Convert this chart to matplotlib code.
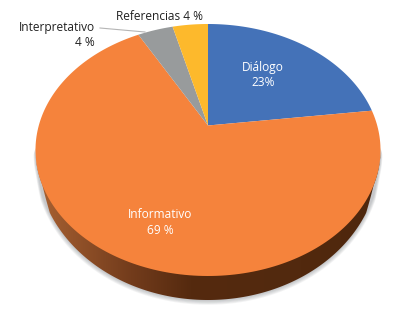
#!/usr/bin/env python3
import numpy as np
import matplotlib
matplotlib.use("Agg")
import matplotlib.pyplot as plt
from matplotlib.patches import Polygon

plt.rcParams['font.family'] = ['Open Sans', 'DejaVu Sans']

# order is clockwise from the top of the pie
categories = ['Diálogo', 'Informativo', 'Interpretativo', 'Referencias']
values = [23, 69, 4, 4]
colors = ['#4472b8', '#f5833c', '#989b9c', '#fdb92c']

# pie geometry in image pixels
cx, cy = 208.0, 150.0
ax_x, ax_y = 172.5, 126.0
apex_y = 125.5
depth = 24.0
k = (cy - apex_y) * 2 / (2 * ax_y)


def persp(theta):
    # theta clockwise from top, circle seen in perspective -> ellipse with offset apex
    u, v = np.sin(theta), np.cos(theta)
    d = 1 + k * v
    c = ax_x * np.sqrt(1 - k ** 2)
    x = cx + c * u / d
    y = cy - (ax_y * v + (cy - apex_y)) / d
    return x, y


def drop(s, dmax, s0):
    # how far the lower rim sits below the face, fading out towards the sides
    return dmax * s ** 0.7 * np.clip((s - s0) / 0.12, 0, 1)


fig = plt.figure(figsize=(3.97, 3.17), dpi=100)
ax = fig.add_axes([0, 0, 1, 1])
ax.set_xlim(0, 397)
ax.set_ylim(317, 0)
ax.axis('off')

t2 = np.linspace(0, np.pi, 300)
lx = cx + ax_x * np.cos(t2)
ly = cy + ax_y * np.sin(t2)
s = np.sin(t2)

# soft shadow under the pie
for i in range(6):
    off = 0.8 * (i + 1)
    sh = np.vstack([np.column_stack([cx + (ax_x + off * 0.4) * np.cos(t2),
                                     ly + drop(s, depth, 0.16) + off]),
                    np.column_stack([lx[::-1], ly[::-1] - 2])])
    ax.fill(sh[:, 0], sh[:, 1], color='#80858a', alpha=0.09, lw=0, zorder=1)

# side wall with left-to-right gradient
wall = np.vstack([np.column_stack([lx, ly + drop(s, depth, 0.28)]),
                  np.column_stack([lx[::-1], ly[::-1] - 2])])
wall_patch = Polygon(wall, closed=True, transform=ax.transData, fc='none', ec='none')
ax.add_patch(wall_patch)
grad_x = [36, 60, 130, 190, 300, 381]
grad_r = [170, 155, 115, 85, 82, 78]
grad_g = [98, 88, 60, 42, 41, 39]
grad_b = [50, 45, 28, 15, 14, 13]
xs = np.arange(36, 382)
img = np.stack([np.interp(xs, grad_x, grad_r), np.interp(xs, grad_x, grad_g),
                np.interp(xs, grad_x, grad_b)], axis=-1)[None, :, :] / 255.0
im = ax.imshow(img, extent=(36, 382, 310, 140), aspect='auto', zorder=2)
im.set_clip_path(wall_patch)
ax.set_xlim(0, 397)
ax.set_ylim(317, 0)

# top face
start = 0.0
total = float(sum(values))
for val, col in zip(values, colors):
    stop = start + val / total * 2 * np.pi
    th = np.linspace(start, stop, 200)
    px, py = persp(th)
    ax.fill(np.r_[cx, px], np.r_[apex_y, py], color=col, lw=0, zorder=3)
    start = stop

# labels
lab = dict(ha='center', va='center', fontsize=8.6, linespacing=1.3)
ax.text(263, 75, 'Diálogo\n23%', color='white', zorder=5, **lab)
ax.text(160.5, 223, 'Informativo\n69 %', color='white', zorder=5, **lab)
ax.text(160, 16, 'Referencias 4 %', color='#222222', zorder=5, **lab)
ax.text(95, 35, 'Interpretativo\n4 %', color='#222222', zorder=5,
        ha='right', va='center', fontsize=8.6, linespacing=1.3, multialignment='right')
ax.plot([100, 145], [28, 32], color='#b5b5b5', lw=0.8, zorder=4)

fig.savefig('out.png', dpi=100)
